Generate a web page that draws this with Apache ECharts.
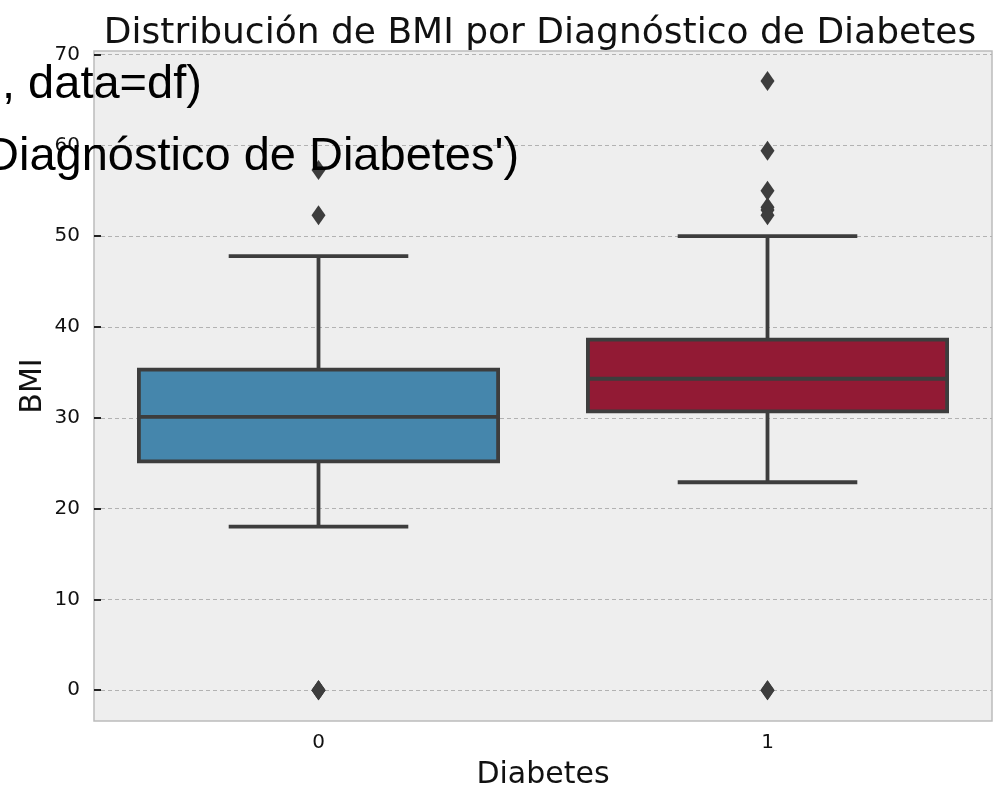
<!DOCTYPE html>
<html>
<head>
<meta charset="utf-8">
<script src="https://cdn.jsdelivr.net/npm/echarts@6/dist/echarts.min.js"></script>
<style>
  html, body { margin: 0; padding: 0; background: #ffffff; }
  #chart { width: 1002px; height: 788px; }
</style>
</head>
<body>
<div id="chart"></div>
<script>
// Diabetes outcome groups on the x axis
const categories = ['0', '1'];
// Box summaries per group: [lower whisker, Q1, median, Q3, upper whisker]
const boxStats = [
  [18.0, 25.2, 30.1, 35.3, 47.8],
  [22.9, 30.7, 34.3, 38.6, 50.0]
];
// Points outside the whiskers: [group index, BMI]
const outliersNoDiabetes = [[0, 57.3], [0, 52.3], [0, 0], [0, 0], [0, 0]];
const outliersDiabetes = [[1, 67.1], [1, 59.4], [1, 55.0], [1, 53.2], [1, 52.9], [1, 52.3], [1, 0], [1, 0]];
// Tick values on the BMI axis
const yTicks = [0, 10, 20, 30, 40, 50, 60, 70];

const boxColors = ['#4586AC', '#921A34'];
const edgeColor = '#3d3d3d';
const font = 'DejaVu Sans';
const edgeWidth = 3.8;

const chart = echarts.init(document.getElementById('chart'));

function renderBox(params, api) {
  const idx = api.value(0);
  const lo = api.value(1), q1 = api.value(2), med = api.value(3), q3 = api.value(4), hi = api.value(5);
  const band = api.size([1, 0])[0];
  const half = band * 0.8 / 2;
  const capHalf = half / 2;
  const pLo = api.coord([idx, lo]);
  const pQ1 = api.coord([idx, q1]);
  const pMed = api.coord([idx, med]);
  const pQ3 = api.coord([idx, q3]);
  const pHi = api.coord([idx, hi]);
  const x = pQ1[0];
  const lineStyle = { stroke: edgeColor, lineWidth: edgeWidth };
  return {
    type: 'group',
    children: [
      { type: 'line', shape: { x1: x, y1: pQ1[1], x2: x, y2: pLo[1] }, style: lineStyle },
      { type: 'line', shape: { x1: x, y1: pQ3[1], x2: x, y2: pHi[1] }, style: lineStyle },
      { type: 'line', shape: { x1: x - capHalf, y1: pLo[1], x2: x + capHalf, y2: pLo[1] }, style: lineStyle },
      { type: 'line', shape: { x1: x - capHalf, y1: pHi[1], x2: x + capHalf, y2: pHi[1] }, style: lineStyle },
      { type: 'rect', shape: { x: x - half, y: pQ3[1], width: half * 2, height: pQ1[1] - pQ3[1] },
        style: { fill: boxColors[idx], stroke: edgeColor, lineWidth: edgeWidth } },
      { type: 'line', shape: { x1: x - half, y1: pMed[1], x2: x + half, y2: pMed[1] }, style: lineStyle }
    ]
  };
}

const option = {
  backgroundColor: '#ffffff',
  animation: false,
  title: {
    text: 'Distribución de BMI por Diagnóstico de Diabetes',
    left: 535, top: 11, textAlign: 'center',
    textStyle: { fontFamily: font, fontSize: 36, fontWeight: 'normal', color: '#111111' }
  },
  grid: {
    left: 94, top: 51, right: 10, bottom: 67,
    outerBoundsMode: 'none', containLabel: false,
    show: true, backgroundColor: '#eeeeee', borderColor: '#bcbcbc', borderWidth: 1.5
  },
  xAxis: {
    type: 'category',
    data: categories,
    name: 'Diabetes', nameLocation: 'middle', nameGap: 39, nameMoveOverlap: false,
    nameTextStyle: { fontFamily: font, fontSize: 30, color: '#111111' },
    axisLine: { show: false },
    axisTick: { show: true, inside: true, alignWithLabel: true, length: 7, lineStyle: { color: '#222', width: 2 } },
    axisLabel: { fontFamily: font, fontSize: 20, color: '#111111', margin: 12 },
    splitLine: { show: false }
  },
  yAxis: {
    type: 'value',
    min: -3.4, max: 70.4,
    name: 'BMI', nameLocation: 'middle', nameGap: 46, nameRotate: 90, nameMoveOverlap: false,
    nameTextStyle: { fontFamily: font, fontSize: 30, color: '#111111' },
    axisLine: { show: false },
    axisTick: { show: true, inside: true, length: 7, customValues: yTicks, lineStyle: { color: '#222', width: 2 } },
    axisLabel: { fontFamily: font, fontSize: 20, color: '#111111', margin: 14, customValues: yTicks },
    splitLine: { show: true, lineStyle: { color: '#b2b2b2', type: [4, 3], width: 1 } }
  },
  graphic: [
    { type: 'text', left: 2, top: 62, z: 100,
      style: { text: ', data=df)', font: '47px "Liberation Sans"', fill: '#000000' } },
    { type: 'text', left: -15, top: 134, z: 100,
      style: { text: "Diagnóstico de Diabetes')", font: '47px "Liberation Sans"', fill: '#000000' } }
  ],
  series: [
    {
      type: 'custom',
      renderItem: renderBox,
      data: boxStats.map((s, i) => [i].concat(s)),
      encode: { x: 0, y: [1, 2, 3, 4, 5] },
      z: 3
    },
    {
      type: 'scatter',
      data: outliersNoDiabetes.concat(outliersDiabetes),
      symbol: 'diamond', symbolSize: [14, 20],
      itemStyle: { color: edgeColor, opacity: 1 },
      z: 4
    }
  ]
};
chart.setOption(option);
</script>
</body>
</html>
